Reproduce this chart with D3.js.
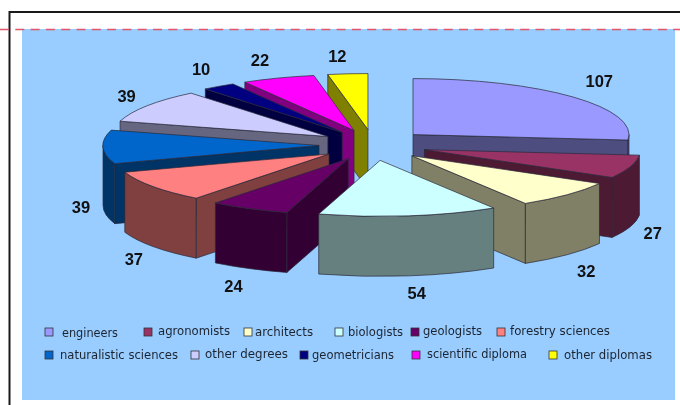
<!DOCTYPE html>
<html>
<head>
<meta charset="utf-8">
<script src="https://cdn.jsdelivr.net/npm/d3@7"></script>
<style>
    html, body { margin: 0; padding: 0; background: #fff; }
    svg { display: block; filter: blur(0.35px); }
</style>
</head>
<body>
<div id="chart"></div>
<script>
const categorias = ['engineers', 'agronomists', 'architects', 'biologists', 'geologists', 'forestry sciences',
    'naturalistic sciences', 'other degrees', 'geometricians', 'scientific diploma', 'other diplomas'];
const valores = [107, 27, 32, 54, 24, 37, 39, 39, 10, 22, 12];
const coresTopo = ['#9999ff', '#993366', '#ffffcc', '#ccffff', '#660066', '#ff8080',
    '#0066cc', '#ccccff', '#000080', '#ff00ff', '#ffff00'];
const coresParede = ['#4d4d80', '#4d1a33', '#808066', '#668080', '#330033', '#804040',
    '#003366', '#666680', '#000040', '#800080', '#808000'];

// legend layout: swatch x, text x, text width, text y, one row per line
const legendaLinhas = [
    { y: 332.5, itens: [[45, 62, 56, 333], [144, 158, 72, 331], [244, 255, 58, 332], [335, 348, 55, 332], [411, 423, 59, 331], [497, 510, 100, 331]] },
    { y: 355.5, itens: [[45, 60, 118, 355], [191, 205, 83, 354], [300, 312, 82, 355], [412, 427, 100, 354], [549, 564, 88, 355]] }
];
// small corrections of the data labels
const ajusteRotulos = [[15, -6], [8, 2], [8, 6], [6, 2], [-9, 4], [-7, 4], [-7, 0], [-8, -1], [-9, -5], [-13, -4], [-9, -3]];

const width = 680, height = 405;
const centroX = 373, centroY = 145;
const raioX = 216, raioY = 56;
const explodeX = 54, explodeY = 15.5;
const profundidade = 60;

const svg = d3.select('#chart').append('svg').attr('width', width).attr('height', height);

// page furniture
svg.append('rect').attr('x', 22).attr('y', 29).attr('width', 653).attr('height', 371).attr('fill', '#99ccff');
svg.append('path').attr('d', `M9.5,${height} V12 H${width}`).attr('fill', 'none').attr('stroke', '#1a1a1a').attr('stroke-width', 2);
svg.append('line').attr('x1', 0).attr('x2', width).attr('y1', 29.5).attr('y2', 29.5)
    .attr('stroke', '#e0566a').attr('stroke-width', 1.6).attr('stroke-dasharray', '9,6.3');

const pie = d3.pie().sort(null).value(d => d);
const fatias = pie(valores).map((d, i) => {
    const meio = (d.startAngle + d.endAngle) / 2;
    return {
        i,
        a0: d.startAngle,
        a1: d.endAngle,
        meio,
        ax: centroX + explodeX * Math.sin(meio),
        ay: centroY - explodeY * Math.cos(meio)
    };
});

function ponto(f, ang, dy = 0) {
    return [f.ax + raioX * Math.sin(ang), f.ay - raioY * Math.cos(ang) + dy];
}

function paredeRadial(f, ang) {
    const p = ponto(f, ang);
    return `M${f.ax},${f.ay} L${p} L${p[0]},${p[1] + profundidade} L${f.ax},${f.ay + profundidade} Z`;
}

function paredeExterna(f) {
    // only the part of the rim that faces the viewer
    const ini = Math.max(f.a0, Math.PI / 2), fim = Math.min(f.a1, Math.PI * 3 / 2);
    if (fim <= ini) return null;
    const p0 = ponto(f, ini), p1 = ponto(f, fim);
    const b0 = ponto(f, ini, profundidade), b1 = ponto(f, fim, profundidade);
    return `M${p0} A${raioX},${raioY} 0 0 1 ${p1} L${b1} A${raioX},${raioY} 0 0 0 ${b0} Z`;
}

function topo(f) {
    const p0 = ponto(f, f.a0), p1 = ponto(f, f.a1);
    return `M${f.ax},${f.ay} L${p0} A${raioX},${raioY} 0 0 1 ${p1} Z`;
}

const ordem = fatias.slice().sort((a, b) => Math.cos(b.meio) - Math.cos(a.meio));
const grupos = svg.append('g').selectAll('g').data(ordem).enter().append('g')
    .attr('stroke', '#2a2a3a').attr('stroke-width', 0.7).attr('stroke-linejoin', 'round');

grupos.each(function (f) {
    const g = d3.select(this);
    const cor = coresParede[f.i];
    if (Math.sin(f.a0) < -1e-6) g.append('path').attr('d', paredeRadial(f, f.a0)).attr('fill', cor);
    if (Math.sin(f.a1) > 1e-6) g.append('path').attr('d', paredeRadial(f, f.a1)).attr('fill', cor);
    const externa = paredeExterna(f);
    if (externa) g.append('path').attr('d', externa).attr('fill', cor);
    g.append('path').attr('d', topo(f)).attr('fill', coresTopo[f.i]);
});

// data labels, just outside each slice
svg.append('g').selectAll('text').data(fatias).enter().append('text')
    .attr('x', f => f.ax + raioX * 0.95 * Math.sin(f.meio) + 26 * Math.sin(f.meio) + ajusteRotulos[f.i][0])
    .attr('y', f => f.ay - raioY * 0.95 * Math.cos(f.meio) - 18 * Math.cos(f.meio)
        + (Math.cos(f.meio) < 0 ? profundidade : 0) + ajusteRotulos[f.i][1])
    .attr('dy', '0.36em')
    .attr('text-anchor', 'middle')
    .attr('font-family', '"Liberation Sans", Arial, sans-serif')
    .attr('font-weight', 'bold')
    .attr('font-size', 16.5)
    .attr('fill', '#111')
    .text(f => valores[f.i]);

// legend
const legenda = svg.append('g');
let k = 0;
legendaLinhas.forEach(linha => {
    linha.itens.forEach(([xq, xt, larg, yt]) => {
        legenda.append('rect')
            .attr('x', xq).attr('y', linha.y - 4.5).attr('width', 8).attr('height', 8)
            .attr('fill', coresTopo[k]).attr('stroke', '#333').attr('stroke-width', 0.8);
        legenda.append('text')
            .attr('x', xt).attr('y', yt)
            .attr('dy', '0.3em')
            .attr('font-family', '"DejaVu Sans", Verdana, sans-serif')
            .attr('font-size', 12)
            .attr('textLength', larg)
            .attr('lengthAdjust', 'spacingAndGlyphs')
            .attr('fill', '#1c2430')
            .text(categorias[k]);
        k++;
    });
});
</script>
</body>
</html>
